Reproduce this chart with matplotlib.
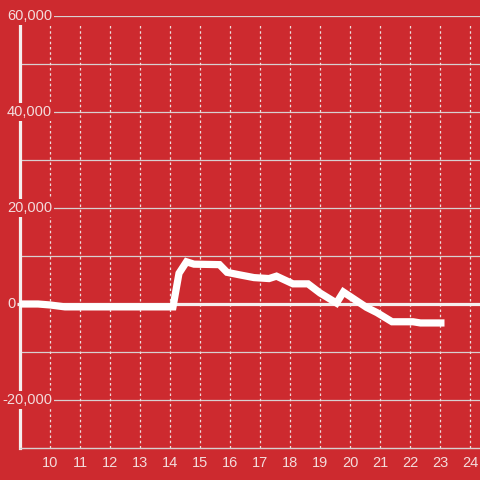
import matplotlib
matplotlib.use("Agg")
import matplotlib.pyplot as plt

# Data
x_values = [9.0, 9.6, 10.0, 10.5, 14.1, 14.3, 14.55, 14.8, 15.65, 15.9, 16.3, 16.8,
            17.3, 17.55, 18.1, 18.6, 19.0, 19.55, 19.78, 20.55, 20.9, 21.4, 22.1,
            22.35, 23.15]
y_values = [0, 0, -200, -600, -600, 6400, 8800, 8300, 8200, 6600, 6100, 5500,
            5300, 5800, 4200, 4200, 2300, 200, 2500, -700, -1800, -3700, -3700,
            -3950, -3950]
x_ticks = list(range(10, 25))
y_label_values = [60000, 40000, 20000, 0, -20000]
y_grid_values = list(range(-20000, 60001, 10000))

BG = "#cd2a2f"
TXT = "#f3dcdc"
GRID = "#d8d0d0"

plt.rcParams["font.family"] = ["Liberation Sans", "DejaVu Sans"]

fig = plt.figure(figsize=(4.8, 4.8), dpi=100)
fig.patch.set_facecolor(BG)
ax = fig.add_axes([20 / 480, 32 / 480, 460 / 480, 432 / 480])
ax.set_facecolor(BG)
ax.set_xlim(9, 9 + 460 / 30)
ax.set_ylim(-30000, 60000)

for s in ["top", "right"]:
    ax.spines[s].set_visible(False)
ax.spines["bottom"].set_color(GRID)
ax.spines["bottom"].set_linewidth(1)
ax.spines["left"].set_color("#f5eeee")
ax.spines["left"].set_linewidth(2.3)
ax.spines["left"].set_bounds(-30000, 58400)
ax.spines["left"].set_zorder(1)

# horizontal grid
for v in y_grid_values:
    if v == 0:
        continue
    ax.axhline(v, color=GRID, lw=0.9, zorder=1)
# vertical dotted grid
top_frac = (58500 + 30000) / 90000
for t in x_ticks:
    ax.axvline(t, ymin=0, ymax=top_frac, color="#eedede", lw=0.9,
               ls=(0, (2, 2.2)), zorder=1)

# zero line
ax.plot([8.9, 9 + 460 / 30], [0, 0], color="#f5eeee", lw=2.3, zorder=2,
        clip_on=False, solid_capstyle="butt")

# data line
ax.plot(x_values, y_values, color="white", lw=5.2, zorder=3,
        solid_capstyle="butt", solid_joinstyle="miter")

ax.set_xticks(x_ticks)
ax.set_xticklabels([str(t) for t in x_ticks])
ax.tick_params(axis="x", length=0, pad=6, labelsize=10.5, labelcolor=TXT)
ax.set_yticks([])

# y labels with background boxes
for v in y_label_values:
    lab = f"{v:,}"
    if v == 0:
        ax.text(-4 / 460, v, lab, transform=ax.get_yaxis_transform(),
                ha="right", va="center", fontsize=10.5, color=TXT, zorder=5)
    else:
        ax.text(32 / 460, v, lab, transform=ax.get_yaxis_transform(),
                ha="right", va="center", fontsize=10.5, color=TXT, zorder=5,
                bbox=dict(boxstyle="square,pad=0.12", fc=BG, ec="none"))

fig.savefig("out.png", dpi=100, facecolor=BG)
